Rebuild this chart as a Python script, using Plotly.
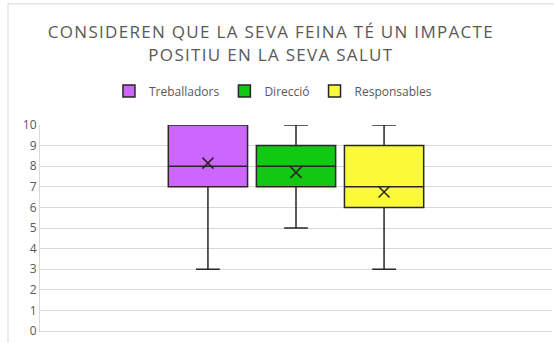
import plotly.graph_objects as go

groups = ["Treballadors", "Direcció", "Responsables"]
colors = ["#CC66FF", "#12C812", "#FAFA38"]
mins = [3, 5, 3]
q1s = [7, 7, 6]
medians = [8, 8, 7]
q3s = [10, 9, 9]
maxs = [10, 10, 10]
means = [8.15, 7.7, 6.75]

fig = go.Figure()
for name, col, lo, a, m, b, hi, mu in zip(groups, colors, mins, q1s, medians, q3s, maxs, means):
    fig.add_trace(go.Box(
        name=name, x=[""], q1=[a], median=[m], q3=[b],
        lowerfence=[lo], upperfence=[hi],
        fillcolor=col, line=dict(color="#262626", width=1.5),
        whiskerwidth=0.3, offsetgroup=name, legendgroup=name,
    ))
    # mean shown as a cross, like Excel
    fig.add_trace(go.Scatter(
        x=[""], y=[mu], mode="markers", offsetgroup=name, legendgroup=name,
        marker=dict(symbol="x-thin", size=11, line=dict(color="#262626", width=1.5)),
        showlegend=False, hoverinfo="y",
    ))

fig.update_layout(
    width=554, height=343,
    margin=dict(l=40, r=2, t=125, b=12),
    plot_bgcolor="white", paper_bgcolor="white",
    boxmode="group", scattermode="group",
    boxgap=0.484, boxgroupgap=0.1, scattergap=0.484,
    title=dict(
        text="CONSIDEREN QUE LA SEVA FEINA TÉ UN IMPACTE<br>POSITIU EN LA SEVA SALUT",
        x=0.489, xanchor="center", y=0.888, yanchor="middle",
        font=dict(family="Open Sans", size=17, color="#595959"),
    ),
    legend=dict(
        orientation="h", x=0.455, xanchor="center", y=1.165, yanchor="middle",
        font=dict(family="Open Sans", size=12, color="#595959"),
        itemwidth=30,
    ),
    font=dict(family="Open Sans", color="#595959"),
    shapes=[dict(type="rect", xref="paper", yref="paper", x0=-0.0625, x1=1.2, y0=-0.2, y1=1.5883,
                 line=dict(color="#D9D9D9", width=1), layer="below")],
)
fig.update_xaxes(showticklabels=False, showgrid=False, showline=True, linecolor="#D9D9D9",
                 ticks="", zeroline=False)
fig.update_yaxes(range=[0, 10], dtick=1, gridcolor="#D9D9D9", showline=True, linecolor="#D9D9D9",
                 zeroline=False, tickfont=dict(size=12, color="#595959"), ticks="")

js = ("document.body.style.margin='0';"
      "document.querySelectorAll('.gtitle').forEach(function(t){t.style.letterSpacing='1.3px';});")
fig.write_html("out.html", post_script=js, config={"displayModeBar": False})
